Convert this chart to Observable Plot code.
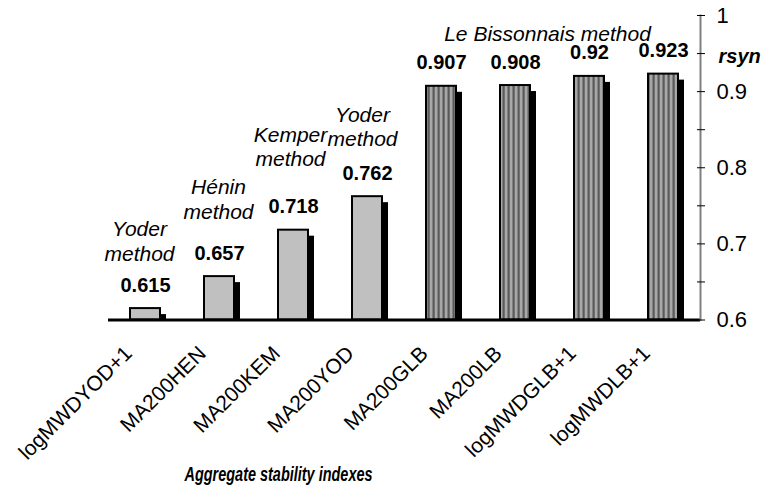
<!DOCTYPE html>
<html><head><meta charset="utf-8">
<script src="https://cdn.jsdelivr.net/npm/d3@7"></script>
<script src="https://cdn.jsdelivr.net/npm/@observablehq/plot@0.6"></script>
<style>body{margin:0;background:#fff} svg{display:block}</style>
</head><body><div id="chart"></div>
<script>
const categories = ["logMWDYOD+1","MA200HEN","MA200KEM","MA200YOD","MA200GLB","MA200LB","logMWDGLB+1","logMWDLB+1"];
const values = [0.615,0.657,0.718,0.762,0.907,0.908,0.92,0.923];
const valueLabels = ["0.615","0.657","0.718","0.762","0.907","0.908","0.92","0.923"];
const methods = ["Yoder","Hénin","Kemper","Yoder","Le Bissonnais","Le Bissonnais","Le Bissonnais","Le Bissonnais"];
const yAllTicks = [0.6,0.65,0.7,0.75,0.8,0.85,0.9,0.95,1];
const yTickLabels = ["0.6","","0.7","","0.8","","0.9","","1"];
const noteTexts = ["Yoder\nmethod","Hénin\nmethod","Kemper\nmethod","Yoder\nmethod","Le Bissonnais method"];
const noteCategories = ["logMWDYOD+1","MA200HEN","MA200KEM","MA200YOD","MA200LB"];
const yTitle = "rsyn";
const xTitle = "Aggregate stability indexes";

// layout (pixels)
const noteDx = [-6,-1,-3,-5,32];
const noteDy = [-48,-58,-64,-51,-45];

const data = categories.map((c,i)=>({category:c, value:values[i], label:valueLabels[i], method:methods[i]}));
const plain = data.filter(d=>d.method!=="Le Bissonnais");
const striped = data.filter(d=>d.method==="Le Bissonnais");
const notes = noteTexts.map((t,i)=>({text:t, category:noteCategories[i], value:values[categories.indexOf(noteCategories[i])]}));

const font = "Arial, 'Liberation Sans', Helvetica, sans-serif";

const chart = Plot.plot({
  width:763, height:494,
  marginLeft:108, marginRight:63, marginTop:15, marginBottom:174.5,
  style:{fontFamily:font, background:"white", color:"black"},
  x:{domain:categories, paddingInner:0.6, paddingOuter:0.3, axis:null},
  y:{domain:[0.6,1], axis:null},
  marks:[
    Plot.barY(data,{x:"category", y1:0.6, y2:"value", fill:"black", dx:6, dy:6, clip:true}),
    Plot.barY(plain,{x:"category", y1:0.6, y2:"value", fill:"#c0c0c0", stroke:"black", strokeWidth:2}),
    Plot.barY(striped,{x:"category", y1:0.6, y2:"value", fill:"url(#stripes)", stroke:"black", strokeWidth:2}),
    Plot.ruleY([0.6],{stroke:"black", strokeWidth:3}),
    Plot.frame({anchor:"right", stroke:"#808080", strokeWidth:2}),
    Plot.axisY({anchor:"right", ticks:yAllTicks, tickSize:8, dx:-4, tickPadding:12, fontSize:22, label:null, stroke:"black", tickFormat:d=>yTickLabels[yAllTicks.indexOf(d)]}),
    Plot.axisX({tickRotate:-45, tickSize:0, tickPadding:30, dx:-17, fontSize:21, label:null}),
    Plot.text(data,{x:"category", y:"value", text:"label", lineAnchor:"bottom", dy:-17, fontSize:20, fontWeight:"bold"}),
    ...notes.map((n,i)=>Plot.text([n],{x:"category", y:"value", text:"text", lineAnchor:"bottom", lineHeight:1.15, dx:noteDx[i], dy:noteDy[i], fontSize:21, fontStyle:"italic"})),
    Plot.text([yTitle],{frameAnchor:"top-right", textAnchor:"start", lineAnchor:"bottom", dx:18, dy:47, fontSize:20, fontWeight:"bold", fontStyle:"italic"}),
    Plot.text([xTitle],{frameAnchor:"bottom", lineAnchor:"middle", dx:-126, dy:154, fontSize:21, fontWeight:"bold", fontStyle:"italic", className:"xtitle"})
  ]
});

const defs = d3.select(chart).insert("defs",":first-child");
const pat = defs.append("pattern").attr("id","stripes").attr("patternUnits","userSpaceOnUse").attr("width",5).attr("height",10);
pat.append("rect").attr("width",5).attr("height",10).attr("fill","#a8a8a8");
pat.append("rect").attr("x",2.5).attr("width",2.2).attr("height",10).attr("fill","#5a5a5a");

// condensed title (reference uses a narrow face)
d3.select(chart).selectAll(".xtitle text").attr("textLength",188).attr("lengthAdjust","spacingAndGlyphs");

document.getElementById("chart").appendChild(chart);
</script>
</body></html>
